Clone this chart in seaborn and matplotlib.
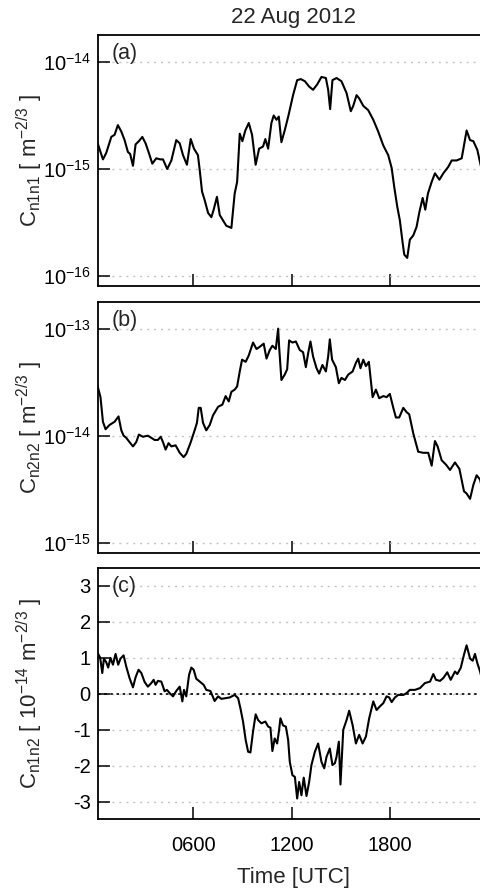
import numpy as np
import pandas as pd
import matplotlib
matplotlib.use('Agg')
import matplotlib.pyplot as plt
import seaborn as sns
from matplotlib.ticker import FixedLocator, NullLocator, LogLocator

# values, time in hours UTC on 22 Aug 2012
# panel (a): log10 of Cn1n1 [m^-2/3]
time_a = [0.17, 0.49, 0.69, 1.00, 1.20, 1.40, 1.61, 1.81, 2.01, 2.15, 2.32, 2.48, 2.68, 2.89,
          3.09, 3.29, 3.50, 3.74, 3.99, 4.15, 4.41, 4.66, 4.96, 5.17, 5.37, 5.61, 5.84, 6.04,
          6.28, 6.39, 6.53, 6.69, 6.90, 7.10, 7.24, 7.44, 7.61, 7.81, 8.01, 8.32, 8.52, 8.67,
          8.83, 8.99, 9.17, 9.38, 9.58, 9.80, 10.01, 10.25, 10.39, 10.56, 10.76, 10.90, 11.07,
          11.21, 11.37, 11.57, 11.80, 12.08, 12.33, 12.55, 12.80, 13.06, 13.30, 13.55, 13.81,
          14.08, 14.22, 14.34, 14.48, 14.73, 15.03, 15.34, 15.60, 15.75, 15.95, 16.11, 16.36,
          16.66, 16.97, 17.27, 17.58, 17.88, 18.09, 18.25, 18.43, 18.59, 18.76, 18.86, 19.04,
          19.20, 19.41, 19.61, 19.77, 19.98, 20.14, 20.30, 20.53, 20.73, 21.00, 21.24, 21.54,
          21.75, 22.05, 22.36, 22.66, 22.87, 23.07, 23.31, 23.54, 23.70]
log_cn1n1 = [-14.76, -14.91, -14.85, -14.70, -14.68, -14.59, -14.65, -14.73, -14.84, -14.86,
             -14.97, -14.77, -14.74, -14.70, -14.76, -14.85, -14.95, -14.90, -14.91, -14.91,
             -15.00, -14.92, -14.73, -14.76, -14.87, -14.96, -14.72, -14.81, -14.87, -15.01,
             -15.21, -15.29, -15.41, -15.45, -15.38, -15.26, -15.43, -15.48, -15.53, -15.55,
             -15.23, -15.12, -14.67, -14.74, -14.64, -14.57, -14.68, -14.96, -14.81, -14.79,
             -14.72, -14.81, -14.57, -14.50, -14.54, -14.51, -14.75, -14.64, -14.50, -14.31,
             -14.17, -14.16, -14.18, -14.23, -14.26, -14.21, -14.14, -14.15, -14.26, -14.44,
             -14.17, -14.15, -14.18, -14.29, -14.46, -14.41, -14.31, -14.34, -14.41, -14.45,
             -14.54, -14.65, -14.78, -14.87, -14.99, -15.17, -15.35, -15.48, -15.69, -15.80,
             -15.83, -15.66, -15.62, -15.54, -15.41, -15.27, -15.38, -15.23, -15.12, -15.04,
             -15.10, -15.04, -14.98, -14.92, -14.92, -14.90, -14.64, -14.73, -14.74, -14.82,
             -14.98, -15.05]

# panel (b): log10 of Cn2n2 [m^-2/3]
time_b = [0.17, 0.34, 0.49, 0.65, 0.89, 1.20, 1.44, 1.61, 1.75, 1.91, 2.11, 2.32, 2.52, 2.68,
          2.93, 3.23, 3.44, 3.64, 3.84, 4.01, 4.15, 4.31, 4.49, 4.66, 4.92, 5.17, 5.41, 5.57,
          5.82, 6.08, 6.22, 6.33, 6.45, 6.59, 6.79, 7.00, 7.20, 7.51, 7.77, 7.97, 8.16, 8.32,
          8.52, 8.67, 8.83, 8.97, 9.19, 9.38, 9.64, 9.85, 10.05, 10.29, 10.46, 10.66, 10.82,
          11.03, 11.17, 11.23, 11.37, 11.57, 11.72, 11.84, 12.04, 12.25, 12.49, 12.69, 12.86,
          13.00, 13.14, 13.30, 13.51, 13.67, 13.87, 14.08, 14.22, 14.32, 14.46, 14.69, 14.87,
          15.03, 15.24, 15.44, 15.71, 15.91, 16.05, 16.19, 16.36, 16.52, 16.70, 16.93, 17.13,
          17.33, 17.58, 17.78, 17.98, 18.19, 18.35, 18.55, 18.80, 19.00, 19.16, 19.41, 19.71,
          20.02, 20.32, 20.53, 20.73, 20.89, 21.14, 21.40, 21.65, 21.95, 22.22, 22.50, 22.66,
          22.87, 23.07, 23.27, 23.48, 23.54, 23.70]
log_cn2n2 = [-13.54, -13.64, -13.87, -13.94, -13.90, -13.87, -13.82, -13.95, -14.00, -14.02,
             -14.06, -14.10, -14.06, -13.99, -14.01, -14.00, -14.02, -14.04, -14.04, -14.01,
             -14.06, -14.13, -14.07, -14.10, -14.09, -14.16, -14.20, -14.17, -14.07, -13.95,
             -13.88, -13.74, -13.74, -13.88, -13.95, -13.90, -13.81, -13.73, -13.71, -13.63,
             -13.68, -13.59, -13.57, -13.54, -13.40, -13.29, -13.31, -13.25, -13.13, -13.19,
             -13.17, -13.14, -13.28, -13.20, -13.16, -13.19, -13.00, -13.17, -13.48, -13.43,
             -13.38, -13.11, -13.13, -13.12, -13.20, -13.22, -13.36, -13.23, -13.12, -13.26,
             -13.37, -13.42, -13.34, -13.40, -13.26, -13.10, -13.29, -13.36, -13.51, -13.46,
             -13.48, -13.43, -13.40, -13.32, -13.28, -13.37, -13.29, -13.35, -13.31, -13.64,
             -13.57, -13.65, -13.63, -13.64, -13.61, -13.74, -13.83, -13.83, -13.74, -13.78,
             -13.80, -13.98, -14.15, -14.16, -14.16, -14.28, -14.05, -14.10, -14.23, -14.27,
             -14.32, -14.25, -14.31, -14.52, -14.54, -14.59, -14.46, -14.37, -14.41, -14.45,
             -14.50]

# panel (c): Cn1n2 [10^-14 m^-2/3]
time_c = [0.17, 0.32, 0.45, 0.55, 0.69, 0.81, 0.95, 1.10, 1.26, 1.42, 1.56, 1.75, 1.91, 2.11,
          2.32, 2.48, 2.66, 2.83, 3.03, 3.23, 3.44, 3.58, 3.70, 3.84, 4.05, 4.25, 4.39, 4.56,
          4.76, 4.96, 5.17, 5.33, 5.43, 5.57, 5.74, 5.88, 6.02, 6.18, 6.39, 6.63, 6.79, 7.04,
          7.30, 7.51, 7.71, 7.97, 8.22, 8.52, 8.73, 8.87, 9.03, 9.19, 9.34, 9.48, 9.64, 9.80,
          9.95, 10.15, 10.39, 10.56, 10.70, 10.82, 10.96, 11.11, 11.23, 11.31, 11.47, 11.64,
          11.78, 11.88, 12.04, 12.19, 12.33, 12.45, 12.59, 12.73, 12.90, 13.06, 13.20, 13.41,
          13.61, 13.81, 13.98, 14.12, 14.32, 14.48, 14.63, 14.73, 14.87, 14.97, 15.14, 15.34,
          15.50, 15.71, 15.91, 16.11, 16.32, 16.52, 16.72, 16.97, 17.17, 17.37, 17.58, 17.78,
          17.94, 18.09, 18.29, 18.49, 18.80, 19.00, 19.20, 19.51, 19.82, 20.12, 20.43, 20.63,
          20.79, 21.04, 21.24, 21.48, 21.69, 21.95, 22.09, 22.30, 22.50, 22.66, 22.87, 23.03,
          23.17, 23.31, 23.48, 23.54, 23.70]
cn1n2 = [1.13, 1.01, 0.58, 0.98, 0.88, 0.73, 1.00, 0.81, 1.11, 0.81, 0.98, 1.07, 0.76, 0.44,
         0.18, 0.46, 0.67, 0.58, 0.33, 0.20, 0.30, 0.39, 0.25, 0.36, 0.34, 0.07, 0.11, 0.02,
         -0.07, 0.08, 0.20, -0.21, 0.11, -0.07, 0.53, 0.73, 0.67, 0.42, 0.34, 0.25, 0.11, 0.08,
         -0.20, -0.07, -0.14, -0.12, -0.10, -0.03, -0.12, -0.40, -0.77, -1.28, -1.61, -1.63,
         -1.05, -0.57, -0.73, -0.82, -0.77, -0.91, -0.94, -1.59, -1.24, -1.38, -1.00, -0.68,
         -0.88, -0.91, -1.28, -1.89, -2.26, -2.31, -2.91, -2.45, -2.82, -2.33, -2.84, -2.45,
         -1.98, -1.61, -1.38, -1.89, -2.07, -1.75, -1.52, -1.98, -1.93, -1.75, -1.33, -2.52,
         -1.00, -0.73, -0.47, -0.87, -1.38, -1.14, -1.38, -1.19, -0.68, -0.21, -0.45, -0.35,
         -0.26, -0.07, -0.10, -0.23, -0.10, -0.03, -0.03, 0.02, 0.11, 0.11, 0.16, 0.30, 0.34,
         0.55, 0.39, 0.36, 0.44, 0.60, 0.39, 0.62, 0.55, 0.72, 1.09, 1.35, 0.98, 0.92, 1.11,
         0.86, 0.62, 0.51, 0.40]

hour_ticks = [6, 12, 18]
hour_labels = ['0600', '1200', '1800']

sns.set_theme(style='white')
plt.rcParams['font.family'] = ['Liberation Sans', 'DejaVu Sans']
plt.rcParams['mathtext.fontset'] = 'custom'
plt.rcParams['mathtext.rm'] = 'Liberation Sans'
plt.rcParams['mathtext.it'] = 'Liberation Sans:italic'
plt.rcParams['mathtext.default'] = 'regular'
plt.rcParams['axes.unicode_minus'] = False

fig = plt.figure(figsize=(4.81, 8.88), dpi=100)
ax_a = fig.add_axes([0.2031, 0.6779, 0.8127, 0.2827])
ax_b = fig.add_axes([0.2031, 0.3776, 0.8127, 0.2827])
ax_c = fig.add_axes([0.2031, 0.0777, 0.8127, 0.2823])

panels = [
    (ax_a, time_a, 10.0 ** np.array(log_cn1n1), '(a)',
     r'$C_{n1n1}$ [ m$^{-2/3}$ ]', (10 ** -16.093, 10 ** -13.748), True),
    (ax_b, time_b, 10.0 ** np.array(log_cn2n2), '(b)',
     r'$C_{n2n2}$ [ m$^{-2/3}$ ]', (10 ** -15.093, 10 ** -12.748), True),
    (ax_c, time_c, np.array(cn1n2), '(c)',
     r'$C_{n1n2}$ [ 10$^{-14}$ m$^{-2/3}$ ]', (-3.48, 3.49), False),
]

for ax, t, y, tag, ylab, ylim, logy in panels:
    df = pd.DataFrame({'time': t, 'value': y})
    sns.lineplot(data=df, x='time', y='value', ax=ax, color='black', lw=1.5,
                 estimator=None, sort=False)
    if logy:
        ax.set_yscale('log')
        ax.yaxis.set_major_locator(LogLocator(base=10, numticks=10))
        ax.yaxis.set_minor_locator(NullLocator())
    else:
        ax.set_yticks([-3, -2, -1, 0, 1, 2, 3])
        ax.axhline(0, color='black', lw=1.2, ls=(0, (1.5, 2.2)), zorder=1)
    ax.set_ylim(*ylim)
    ax.set_xlim(0.17, 24.0)
    ax.xaxis.set_major_locator(FixedLocator(hour_ticks))
    ax.yaxis.grid(True, color='#c4c4c4', lw=1.0, ls=(0, (1.5, 3.5)))
    ax.xaxis.grid(False)
    ax.set_axisbelow(True)
    for side in ['left', 'bottom', 'top', 'right']:
        ax.spines[side].set_color('black')
        ax.spines[side].set_linewidth(1.3)
    ax.tick_params(axis='both', direction='in', length=8.3, width=1.1, colors='black',
                   labelsize=14.5, left=True, bottom=True)
    ax.tick_params(axis='y', pad=5)
    ax.tick_params(axis='x', pad=12)
    ax.set_xlabel('')
    ax.set_ylabel(ylab, fontsize=16)
    ax.yaxis.set_label_coords(-0.135, 0.5)
    ax.text(0.035, 0.926, tag, transform=ax.transAxes, fontsize=15.5,
            ha='left', va='center')

ax_a.tick_params(axis='x', labelbottom=False)
ax_b.tick_params(axis='x', labelbottom=False)
ax_c.set_xticks(hour_ticks)
ax_c.set_xticklabels(hour_labels)
ax_c.set_xlabel('Time [UTC]', fontsize=16)
ax_c.xaxis.set_label_coords(0.5, -0.19)
ax_a.set_title('22 Aug 2012', fontsize=16, pad=8.5)

fig.savefig('out.png', dpi=100)
